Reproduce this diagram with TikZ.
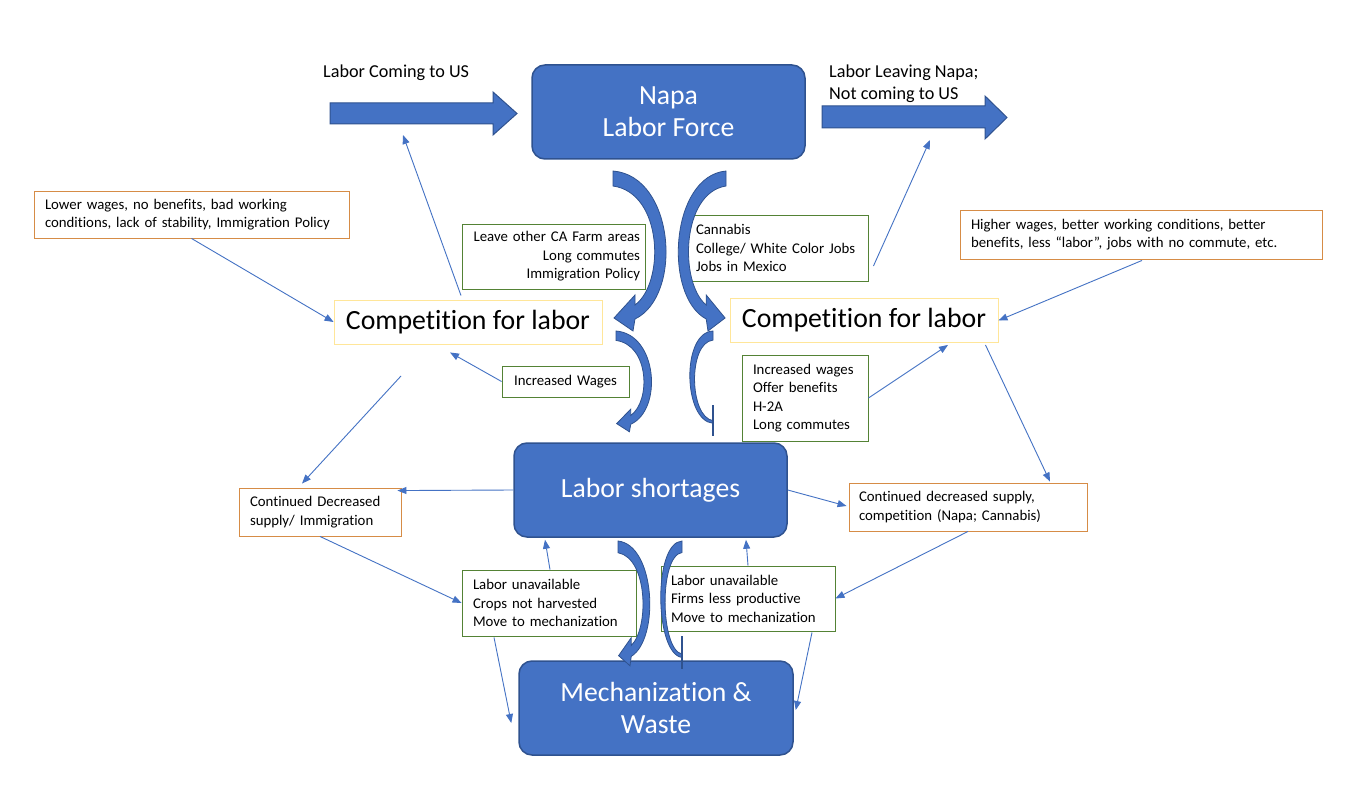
\documentclass[tikz,border=0pt]{standalone}
\usepackage{fontspec}
\setmainfont{Carlito}[Ligatures={NoCommon}]
\usetikzlibrary{arrows.meta,calc}
\definecolor{blk}{RGB}{68,114,196}
\definecolor{blkd}{RGB}{47,82,143}
\definecolor{obord}{RGB}{214,140,70}
\definecolor{gbord}{RGB}{84,130,53}
\definecolor{ybord}{RGB}{255,230,153}
\tikzset{
  block/.style={draw=blkd, line width=1.5pt, fill=blk, rounded corners=13pt, text=white, align=center,
    font=\fontsize{27.7}{32}\selectfont, inner sep=0pt, minimum width=273pt, minimum height=94pt},
  smallf/.style={font=\fontsize{14.8}{18.5}\selectfont},
  tbox/.style={smallf, line width=0.9pt, inner ysep=0pt, align=left},
  obox/.style={tbox, draw=obord},
  gbox/.style={tbox, draw=gbord},
  compbox/.style={draw=ybord, line width=0.9pt, font=\fontsize{27.8}{32}\selectfont, inner sep=0pt,
    minimum width=268pt, minimum height=44pt},
  thin/.style={draw=blk, line width=0.9pt, -{Triangle[length=9pt,width=7pt]}},
  bigarrow/.style={fill=blk, draw=blkd, line width=1pt},
  curv/.style={fill=blk, draw=blkd, line width=0.8pt},
  tee/.style={draw=blkd, line width=1.6pt},
  lbl/.style={font=\fontsize{18.2}{22}\selectfont, inner sep=0pt, align=left}
}
\newcommand{\headshape}{(0,0) .. controls (62,5) and (70,125) .. (22,148) -- (20,160) -- (1,147) -- (22,124) -- (22,134) .. controls (52,112) and (50,22) .. (0,15) -- cycle}
\newcommand{\teeshape}{(0,0) .. controls (53,2) and (50,138) .. (0,142) -- (0,138) .. controls (40,132) and (42,18) .. (0,14) -- cycle}
\begin{document}
\begin{tikzpicture}[x=1pt,y=-1pt]
\fill[white] (0,0) rectangle (1368,789);
\useasboundingbox (0,0) rectangle (1368,789);

% big block arrows
\draw[bigarrow] (330,103) -- (493,103) -- (493,92) -- (517,113.5) -- (493,135) -- (493,124) -- (330,124) -- cycle;
\draw[bigarrow] (822,106) -- (985,106) -- (985,96) -- (1007,117.5) -- (985,139) -- (985,128) -- (822,128) -- cycle;
\node[lbl, anchor=west] (lin) at (323,73) {Labor Coming to US};
\node[lbl, anchor=west] (lout) at (829,84) {Labor Leaving Napa;\\Not coming to US};

% main blocks
\node[block] (napa) at (668.5,112) {Napa\\Labor Force};
\node[block] (short) at (650.5,490) {Labor shortages};
\node[block, minimum width=274pt] (mech) at (656,708) {Mechanization \&\\Waste};

% competition boxes
\node[compbox] (compL) at (468,322) {Competition for labor};
\node[compbox] (compR) at (864,320.5) {Competition for labor};

% text boxes
\node[obox, text width=293pt, inner xsep=11pt, minimum height=47pt] (lowW) at (191.5,214.5)
  {Lower wages, no benefits, bad working\\conditions, lack of stability, Immigration Policy};
\node[obox, text width=340pt, inner xsep=11pt, minimum height=49pt] (highW) at (1141,234.5)
  {Higher wages, better working conditions, better\\benefits, less “labor”, jobs with no commute, etc.};
\node[gbox, text width=173pt, inner xsep=5pt, minimum height=65pt, align=right] (leave) at (553.5,256.5)
  {Leave other CA Farm areas\\Long commutes\\Immigration Policy};
\node[gbox, text width=162pt, inner xsep=10pt, minimum height=66pt] (cann) at (777,248)
  {Cannabis\\College/ White Color Jobs\\Jobs in Mexico};
\node[gbox, text width=107pt, inner xsep=10pt, minimum height=31pt, align=center] (incW) at (565.5,381.5)
  {Increased Wages};
\node[gbox, text width=104pt, inner xsep=11pt, minimum height=86pt] (incR) at (805,398)
  {Increased wages\\Offer benefits\\H-2A\\Long commutes};
\node[obox, text width=140pt, inner xsep=11pt, minimum height=48pt] (contL) at (320,512)
  {Continued Decreased\\supply/ Immigration};
\node[obox, text width=218pt, inner xsep=10pt, minimum height=48pt] (contR) at (968,507)
  {Continued decreased supply,\\competition (Napa; Cannabis)};
\node[gbox, text width=152pt, inner xsep=11pt, minimum height=66pt] (unavL) at (549,603)
  {Labor unavailable\\Crops not harvested\\Move to mechanization};
\node[gbox, text width=154pt, inner xsep=10pt, minimum height=65pt] (unavR) at (748,598.5)
  {Labor unavailable\\Firms less productive\\Move to mechanization};

% curved block arrows
\begin{scope}[shift={(613,171)}] \draw[curv] \headshape; \end{scope}
\begin{scope}[shift={(726,171)}, xscale=-0.9] \draw[curv] \headshape; \end{scope}
\begin{scope}[shift={(616,331)}, xscale=0.67, yscale=0.63] \draw[curv] \headshape; \end{scope}
\begin{scope}[shift={(713,331)}, xscale=-0.6, yscale=0.65] \draw[curv] \teeshape; \end{scope}
\begin{scope}[shift={(618,541)}, xscale=0.6, yscale=0.78] \draw[curv] \headshape; \end{scope}
\begin{scope}[shift={(682,541)}, xscale=-0.55, yscale=0.82] \draw[curv] \teeshape; \end{scope}
\coordinate (teeDa) at (713,405);
\coordinate (teeDb) at (713,436);
\coordinate (teeFa) at (682,636);
\coordinate (teeFb) at (682,669);
\draw[tee] (teeDa) -- (teeDb);
\draw[tee] (teeFa) -- (teeFb);

% thin arrows
\coordinate (toIn) at (403,135);
\coordinate (toOut) at (930,140);
\coordinate (freeS) at (401,376);
\draw[thin] ($(compL.north)+(-7,-4)$) -- (toIn);
\draw[thin] (lowW.south) -- (compL.west);
\draw[thin] (incW.west) -- ($(compL.south)+(-18,8)$);
\draw[thin] (freeS) -- ($(contL.north)+(-18,-4)$);
\draw[thin] (short.west) -- ($(contL.north east)+(-4,3)$);
\draw[thin] (contL.south) -- (unavL.west);
\draw[thin] ($(unavL.north)+(1,0)$) -- ($(short.south)+(-105.5,2)$);
\draw[thin] ($(unavL.south)+(-55,1)$) -- ($(mech.west)+(-7,15)$);
\draw[thin] (short.east) -- ($(contR.west)+(-2,-1)$);
\draw[thin] ($(compR.south east)+(-13,2)$) -- ($(contR.north)+(82,-1)$);
\draw[thin] ($(highW.south)+(1,1)$) -- (compR.east);
\draw[thin] (incR.east) -- ($(compR.south)+(84,2)$);
\draw[thin] ($(cann.east)+(5,18)$) -- (toOut);
\draw[thin] (contR.south) -- (unavR.east);
\draw[thin] (unavR.north) -- ($(short.south)+(95.5,2)$);
\draw[thin] ($(unavR.south)+(64,1)$) -- ($(mech.east)+(2,2)$);
\end{tikzpicture}
\end{document}
